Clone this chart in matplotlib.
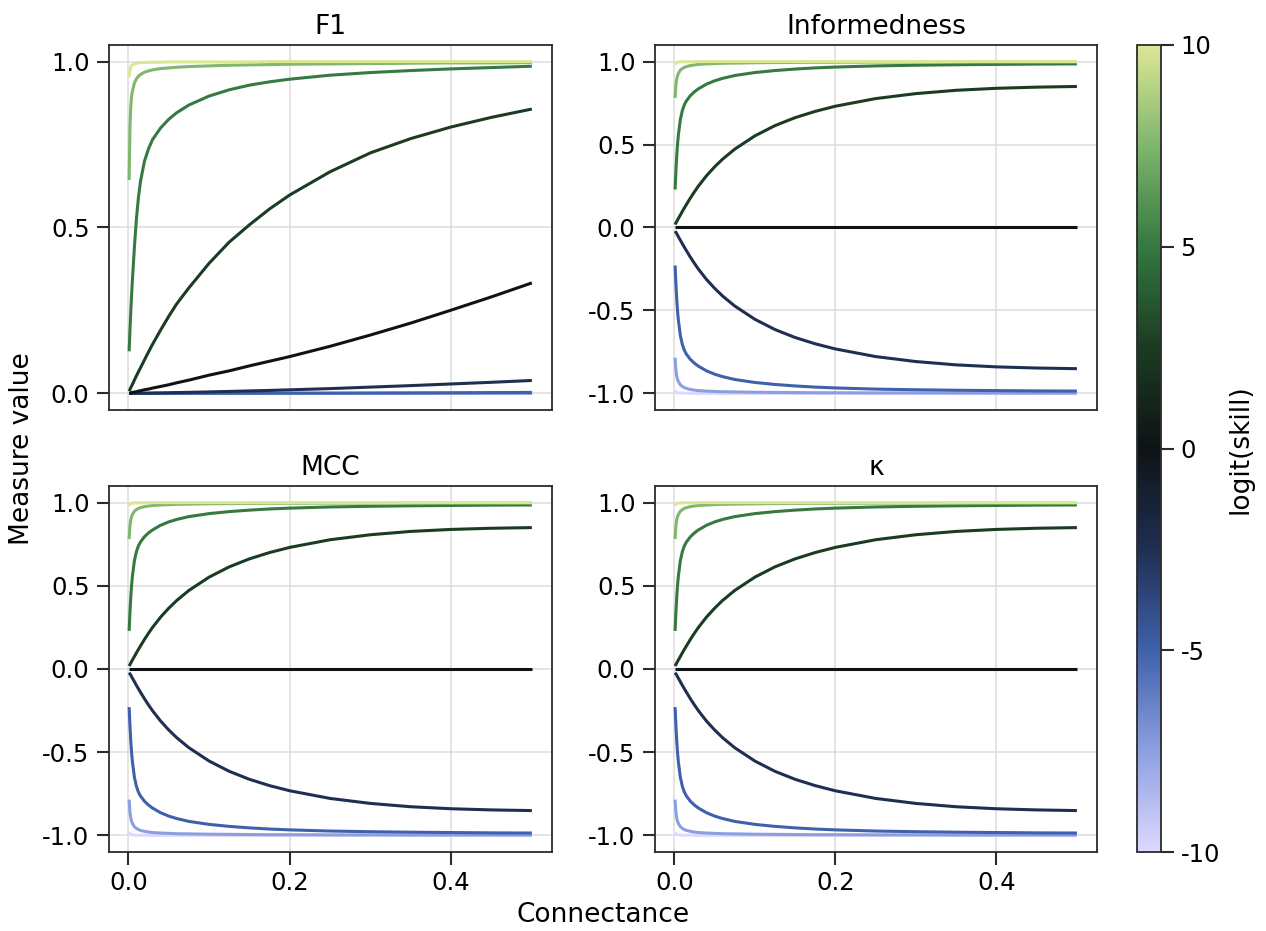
import matplotlib
matplotlib.use("Agg")
import matplotlib.pyplot as plt
from matplotlib.colors import LinearSegmentedColormap, Normalize
from matplotlib.cm import ScalarMappable

plt.rcParams["font.family"] = ["DejaVu Sans"]
plt.rcParams["axes.unicode_minus"] = False

# Connectance values at which each measure is evaluated
connectance = [0.001, 0.002, 0.003, 0.004, 0.005, 0.0075, 0.01, 0.0125, 0.015,
               0.02, 0.025, 0.03, 0.04, 0.05, 0.06, 0.075, 0.1, 0.125, 0.15,
               0.175, 0.2, 0.25, 0.3, 0.35, 0.4, 0.45, 0.5]

# Skill levels (logit scale), one curve each
skill_logit = [-10, -7.5, -5, -2.5, 0, 2.5, 5, 7.5, 10]

# F1 score, one list per skill level (same order as skill_logit)
f1_m10 = [0.0, 0.0, 0.0, 0.0, 0.0, 0.0, 0.0, 0.0, 0.0,
          0.0, 0.0, 0.0, 0.0, 0.0, 0.0, 0.0, 0.0, 0.0, 0.0,
          0.0, 0.0, 0.0, 0.0, 0.0, 0.0, 0.0, 0.0]
f1_m75 = [0.0, 0.0, 0.0, 0.0, 0.0, 0.0, 0.0, 0.0, 0.0,
          0.0, 0.0, 0.0, 0.0, 0.0, 0.0, 0.0, 0.0, 0.0, 0.0,
          0.0, 0.0, 0.0001, 0.0001, 0.0001, 0.0001, 0.0002, 0.0002]
f1_m5 = [0.0, 0.0, 0.0, 0.0, 0.0, 0.0, 0.0, 0.0, 0.0,
         0.0, 0.0, 0.0, 0.0001, 0.0001, 0.0001, 0.0002, 0.0003, 0.0004, 0.0005,
         0.0006, 0.0008, 0.001, 0.0013, 0.0017, 0.002, 0.0025, 0.003]
f1_m25 = [0.0, 0.0, 0.0, 0.0, 0.0, 0.0003, 0.0004, 0.0005, 0.0006,
          0.0008, 0.001, 0.0012, 0.0016, 0.002, 0.0025, 0.0032, 0.0045, 0.006, 0.0075,
          0.009, 0.0108, 0.0145, 0.019, 0.0235, 0.0285, 0.0335, 0.039]
f1_0 = [0.001, 0.001, 0.002, 0.002, 0.003, 0.004, 0.005, 0.007, 0.008,
        0.011, 0.013, 0.016, 0.021, 0.026, 0.032, 0.040, 0.055, 0.068, 0.083,
        0.097, 0.111, 0.142, 0.176, 0.212, 0.251, 0.291, 0.333]
f1_25 = [0.007, 0.012, 0.017, 0.022, 0.027, 0.040, 0.053, 0.065, 0.077,
         0.101, 0.125, 0.148, 0.191, 0.232, 0.270, 0.318, 0.392, 0.456, 0.508,
         0.556, 0.598, 0.668, 0.725, 0.768, 0.803, 0.832, 0.857]
f1_5 = [0.127, 0.19, 0.245, 0.295, 0.34, 0.44, 0.525, 0.59, 0.638,
        0.70, 0.737, 0.765, 0.80, 0.826, 0.846, 0.869, 0.896, 0.915, 0.929,
        0.939, 0.947, 0.959, 0.967, 0.973, 0.978, 0.982, 0.986]
f1_75 = [0.643, 0.80, 0.865, 0.895, 0.91, 0.935, 0.948, 0.956, 0.961,
         0.968, 0.972, 0.975, 0.979, 0.981, 0.983, 0.985, 0.987, 0.989, 0.99,
         0.991, 0.992, 0.993, 0.994, 0.995, 0.996, 0.996, 0.997]
f1_10 = [0.953, 0.975, 0.984, 0.988, 0.99, 0.993, 0.995, 0.996, 0.997,
         0.997, 0.998, 0.998, 0.998, 0.999, 0.999, 0.999, 0.999, 0.999, 0.999,
         1.0, 1.0, 1.0, 1.0, 1.0, 1.0, 1.0, 1.0]

# Informedness, one list per skill level
inf_10 = [0.982, 0.99, 0.994, 0.996, 0.997, 0.998, 0.999, 0.999, 0.999,
          0.999, 0.999, 1.0, 1.0, 1.0, 1.0, 1.0, 1.0, 1.0, 1.0,
          1.0, 1.0, 1.0, 1.0, 1.0, 1.0, 1.0, 1.0]
inf_75 = [0.781, 0.86, 0.895, 0.915, 0.928, 0.948, 0.958, 0.965, 0.97,
          0.976, 0.98, 0.983, 0.986, 0.988, 0.99, 0.991, 0.993, 0.994, 0.995,
          0.996, 0.996, 0.997, 0.997, 0.998, 0.998, 0.998, 0.998]
inf_5 = [0.229, 0.34, 0.43, 0.50, 0.555, 0.65, 0.705, 0.74, 0.763,
         0.795, 0.818, 0.836, 0.864, 0.884, 0.899, 0.916, 0.934, 0.946, 0.955,
         0.962, 0.967, 0.974, 0.978, 0.981, 0.983, 0.985, 0.986]
inf_25 = [0.018, 0.027, 0.036, 0.045, 0.054, 0.075, 0.097, 0.118, 0.138,
          0.178, 0.215, 0.25, 0.312, 0.365, 0.412, 0.472, 0.552, 0.614, 0.662,
          0.70, 0.731, 0.777, 0.807, 0.827, 0.839, 0.846, 0.85]
inf_0 = [0.0, 0.0, 0.0, 0.0, 0.0, 0.0, 0.0, 0.0, 0.0,
         0.0, 0.0, 0.0, 0.0, 0.0, 0.0, 0.0, 0.0, 0.0, 0.0,
         0.0, 0.0, 0.0, 0.0, 0.0, 0.0, 0.0, 0.0]
inf_m25 = [-0.022, -0.029, -0.037, -0.046, -0.055, -0.076, -0.098, -0.119, -0.139,
           -0.179, -0.216, -0.251, -0.313, -0.366, -0.413, -0.473, -0.553, -0.615, -0.663,
           -0.701, -0.732, -0.778, -0.808, -0.828, -0.84, -0.847, -0.851]
inf_m5 = [-0.229, -0.34, -0.43, -0.50, -0.555, -0.65, -0.705, -0.74, -0.763,
          -0.795, -0.818, -0.836, -0.864, -0.884, -0.899, -0.916, -0.934, -0.946, -0.955,
          -0.962, -0.967, -0.974, -0.978, -0.981, -0.983, -0.985, -0.986]
inf_m75 = [-0.785, -0.86, -0.895, -0.915, -0.928, -0.948, -0.958, -0.965, -0.97,
           -0.976, -0.98, -0.983, -0.986, -0.988, -0.99, -0.991, -0.993, -0.994, -0.995,
           -0.996, -0.996, -0.997, -0.997, -0.998, -0.998, -0.998, -0.998]
inf_m10 = [-0.98, -0.99, -0.994, -0.996, -0.997, -0.998, -0.999, -0.999, -0.999,
           -0.999, -0.999, -1.0, -1.0, -1.0, -1.0, -1.0, -1.0, -1.0, -1.0,
           -1.0, -1.0, -1.0, -1.0, -1.0, -1.0, -1.0, -1.0]

f1_series = [f1_m10, f1_m75, f1_m5, f1_m25, f1_0, f1_25, f1_5, f1_75, f1_10]
informedness_series = [inf_m10, inf_m75, inf_m5, inf_m25, inf_0, inf_25, inf_5, inf_75, inf_10]
# MCC and Cohen's kappa coincide with informedness for this model
mcc_series = [list(s) for s in informedness_series]
kappa_series = [list(s) for s in informedness_series]

panel_titles = ["F1", "Informedness", "MCC", "κ"]
panel_series = [f1_series, informedness_series, mcc_series, kappa_series]

# Diverging light-blue / black / light-green palette
palette = LinearSegmentedColormap.from_list(
    "tofino_like",
    [(0.0, "#ddd8ff"), (0.125, "#8b9fe0"), (0.25, "#3f60ab"), (0.375, "#1f2f52"),
     (0.5, "#0e1315"), (0.625, "#1b3b21"), (0.75, "#347840"), (0.875, "#7db56c"),
     (1.0, "#dbe696")], N=256)
norm = Normalize(vmin=-10, vmax=10)

W, H = 1266, 931
fig = plt.figure(figsize=(W / 100, H / 100), dpi=100)


def box(left, top, right, bottom):
    return [left / W, 1 - bottom / H, (right - left) / W, (bottom - top) / H]


positions = [box(109, 45, 552, 410), box(655, 45, 1097, 410),
             box(109, 486, 552, 852), box(655, 486, 1097, 852)]

spine_color = "#2b2b2b"
tick_size = 17.5
label_size = 19
for i, (title, series, pos) in enumerate(zip(panel_titles, panel_series, positions)):
    ax = fig.add_axes(pos)
    for s, values in zip(skill_logit, series):
        ax.plot(connectance, values, color=palette(norm(s)), lw=2.2,
                solid_capstyle="butt", solid_joinstyle="round", zorder=3)
    ax.set_title(title, fontsize=label_size, pad=8)
    ax.grid(True, color="#dcdcdc", lw=1.1)
    ax.set_axisbelow(True)
    ax.set_xticks([0.0, 0.2, 0.4])
    ax.set_xticklabels(["0.0", "0.2", "0.4"])
    if i == 0:
        ax.set_yticks([0.0, 0.5, 1.0])
        ax.set_yticklabels(["0.0", "0.5", "1.0"])
    else:
        ax.set_yticks([-1.0, -0.5, 0.0, 0.5, 1.0])
        ax.set_yticklabels(["-1.0", "-0.5", "0.0", "0.5", "1.0"])
    ax.tick_params(axis="both", which="major", length=9, width=1.5,
                   labelsize=tick_size, color=spine_color, pad=5)
    if i < 2:
        ax.tick_params(axis="x", bottom=False, labelbottom=False)
    for sp in ax.spines.values():
        sp.set_color(spine_color)
        sp.set_linewidth(1.3)

# Shared axis labels
fig.text(603 / W, 1 - 915 / H, "Connectance", ha="center", va="center", fontsize=label_size)
fig.text(22 / W, 1 - 449 / H, "Measure value", ha="center", va="center",
         rotation=90, fontsize=label_size)

# Colour bar for the skill scale
cax = fig.add_axes(box(1137, 45, 1161, 852))
sm = ScalarMappable(norm=norm, cmap=palette)
cb = fig.colorbar(sm, cax=cax)
cb.set_ticks([-10, -5, 0, 5, 10])
cb.set_ticklabels(["-10", "-5", "0", "5", "10"])
cb.ax.tick_params(length=9, width=1.5, labelsize=tick_size, color=spine_color, pad=5)
cb.outline.set_edgecolor(spine_color)
cb.outline.set_linewidth(1.3)
fig.text(1240 / W, 1 - 449 / H, "logit(skill)", ha="center", va="center",
         rotation=90, fontsize=label_size)

fig.savefig("out.png", dpi=100)
